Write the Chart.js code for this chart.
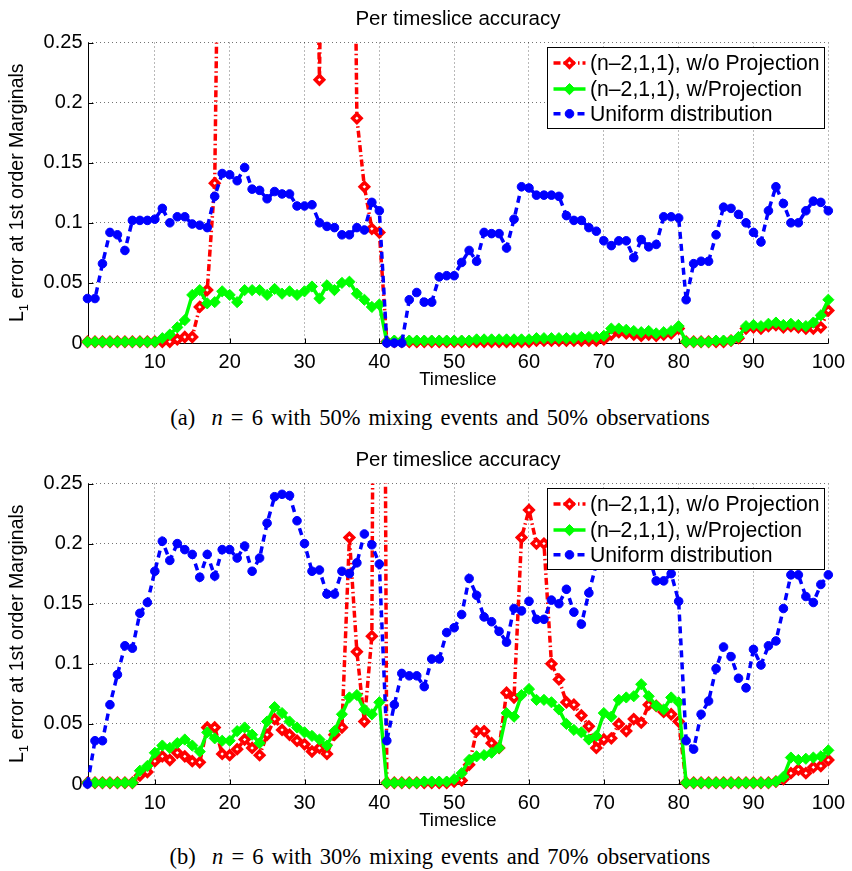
<!DOCTYPE html>
<html lang="en">
<head>
<meta charset="utf-8">
<title>Per timeslice accuracy</title>
<script src="https://cdn.jsdelivr.net/npm/chart.js@4.4.1/dist/chart.umd.min.js"></script>
<style>
body { margin: 0; background: #fff; }
#wrap { position: relative; width: 852px; height: 871px; overflow: hidden; }
canvas { position: absolute; left: 0; }
.cap {
  position: absolute; left: 0; width: 880px; text-align: center;
  font-family: "Liberation Serif", "Times New Roman", serif;
  font-size: 22.5px; line-height: 26px; word-spacing: 2.5px; color: #000; white-space: nowrap;
}
</style>
</head>
<body>
<div id="wrap">
  <canvas id="chartA" width="852" height="400" style="top:0"></canvas>
  <div class="cap" style="top:405px">(a)&nbsp; <i>n</i> = 6 with 50% mixing events and 50% observations</div>
  <canvas id="chartB" width="852" height="400" style="top:441px"></canvas>
  <div class="cap" style="top:844px">(b)&nbsp; <i>n</i> = 6 with 30% mixing events and 70% observations</div>
</div>
<script>
const timeslices = [1,2,3,4,5,6,7,8,9,10,11,12,13,14,15,16,17,18,19,20,
  21,22,23,24,25,26,27,28,29,30,31,32,33,34,35,36,37,38,39,40,
  41,42,43,44,45,46,47,48,49,50,51,52,53,54,55,56,57,58,59,60,
  61,62,63,64,65,66,67,68,69,70,71,72,73,74,75,76,77,78,79,80,
  81,82,83,84,85,86,87,88,89,90,91,92,93,94,95,96,97,98,99,100];
const xTickValues = [10, 20, 30, 40, 50, 60, 70, 80, 90, 100];
const yTickValues = [0, 0.05, 0.1, 0.15, 0.2, 0.25];
const seriesLabels = ['(n\u20132,1,1), w/o Projection', '(n\u20132,1,1), w/Projection', 'Uniform distribution'];

// (a) 50% mixing / 50% observations
const noProjA = [
  0.001,0.001,0.001,0.001,0.001,0.001,0.001,0.001,0.001,0.001,
  0.001,0.001,0.003,0.005,0.005,0.030,0.044,0.133,0.62,0.62,
  0.62,0.62,0.62,0.62,0.62,0.62,0.62,0.62,0.62,0.62,
  0.62,0.219,0.75,0.75,0.75,0.75,0.187,0.130,0.095,0.092,
  0.001,0.001,0.001,0.001,0.001,0.001,0.001,0.001,0.001,0.001,
  0.001,0.001,0.001,0.001,0.001,0.001,0.001,0.001,0.001,0.001,
  0.002,0.002,0.002,0.002,0.002,0.002,0.002,0.002,0.002,0.003,
  0.007,0.009,0.008,0.007,0.006,0.007,0.006,0.007,0.008,0.012,
  0.001,0.001,0.001,0.001,0.001,0.001,0.002,0.004,0.012,0.013,
  0.012,0.014,0.015,0.013,0.014,0.013,0.012,0.012,0.013,0.027];
const withProjA = [
  0.001,0.001,0.001,0.001,0.001,0.001,0.001,0.001,0.001,0.001,
  0.004,0.007,0.013,0.019,0.040,0.044,0.033,0.034,0.043,0.040,
  0.034,0.044,0.044,0.044,0.040,0.045,0.041,0.043,0.040,0.043,
  0.047,0.037,0.048,0.044,0.050,0.051,0.041,0.036,0.030,0.032,
  0.001,0.002,0.002,0.002,0.002,0.002,0.002,0.002,0.002,0.002,
  0.002,0.002,0.003,0.003,0.003,0.003,0.003,0.003,0.003,0.003,
  0.004,0.004,0.004,0.004,0.004,0.004,0.005,0.005,0.005,0.006,
  0.012,0.012,0.011,0.010,0.009,0.010,0.008,0.009,0.010,0.014,
  0.001,0.001,0.001,0.001,0.002,0.002,0.002,0.005,0.014,0.015,
  0.014,0.016,0.017,0.015,0.016,0.015,0.014,0.017,0.023,0.036];
const uniformA = [
  0.037,0.037,0.066,0.092,0.090,0.077,0.102,0.102,0.102,0.103,
  0.112,0.100,0.105,0.105,0.099,0.098,0.096,0.122,0.141,0.140,
  0.135,0.146,0.128,0.127,0.120,0.126,0.124,0.124,0.114,0.114,
  0.115,0.100,0.097,0.096,0.090,0.090,0.096,0.094,0.117,0.110,
  0.000,0.000,0.000,0.036,0.042,0.034,0.034,0.055,0.056,0.056,
  0.067,0.077,0.068,0.092,0.091,0.091,0.079,0.103,0.130,0.129,
  0.123,0.123,0.123,0.122,0.106,0.102,0.102,0.096,0.093,0.085,
  0.081,0.085,0.085,0.071,0.086,0.080,0.082,0.105,0.105,0.104,
  0.036,0.066,0.068,0.068,0.090,0.113,0.112,0.107,0.100,0.092,
  0.084,0.110,0.130,0.116,0.100,0.100,0.110,0.118,0.117,0.110];

// (b) 30% mixing / 70% observations
const noProjB = [
  0.001,0.001,0.001,0.001,0.001,0.001,0.001,0.007,0.010,0.019,
  0.023,0.020,0.026,0.023,0.019,0.018,0.047,0.047,0.025,0.024,
  0.029,0.037,0.030,0.024,0.041,0.054,0.045,0.041,0.036,0.033,
  0.027,0.030,0.025,0.041,0.047,0.205,0.110,0.052,0.123,1.4,
  0.001,0.001,0.001,0.001,0.001,0.001,0.001,0.001,0.001,0.002,
  0.003,0.016,0.044,0.044,0.034,0.030,0.076,0.072,0.205,0.228,
  0.200,0.200,0.100,0.087,0.068,0.066,0.057,0.048,0.030,0.037,
  0.038,0.050,0.044,0.054,0.051,0.066,0.065,0.060,0.058,0.052,
  0.001,0.001,0.001,0.001,0.001,0.001,0.001,0.001,0.001,0.001,
  0.001,0.001,0.002,0.004,0.009,0.012,0.009,0.014,0.015,0.020];
const withProjB = [
  0.001,0.001,0.001,0.001,0.001,0.001,0.001,0.011,0.015,0.026,
  0.032,0.030,0.034,0.037,0.032,0.027,0.043,0.038,0.036,0.036,
  0.044,0.047,0.041,0.034,0.052,0.064,0.059,0.052,0.047,0.043,
  0.040,0.037,0.032,0.044,0.058,0.072,0.074,0.062,0.058,0.068,
  0.001,0.001,0.001,0.001,0.001,0.002,0.002,0.002,0.002,0.004,
  0.009,0.020,0.023,0.024,0.026,0.030,0.059,0.056,0.074,0.079,
  0.070,0.070,0.068,0.062,0.050,0.045,0.043,0.037,0.040,0.059,
  0.056,0.070,0.072,0.073,0.083,0.073,0.065,0.062,0.072,0.068,
  0.001,0.001,0.001,0.001,0.001,0.001,0.001,0.001,0.001,0.001,
  0.001,0.001,0.002,0.006,0.022,0.020,0.021,0.022,0.023,0.028];
const uniformB = [
  0.000,0.036,0.036,0.066,0.091,0.115,0.113,0.142,0.151,0.177,
  0.202,0.186,0.200,0.195,0.191,0.172,0.191,0.173,0.195,0.195,
  0.188,0.198,0.177,0.188,0.217,0.239,0.241,0.240,0.219,0.200,
  0.177,0.178,0.158,0.158,0.177,0.175,0.184,0.208,0.199,0.183,
  0.036,0.066,0.092,0.090,0.090,0.081,0.104,0.104,0.126,0.130,
  0.141,0.171,0.157,0.139,0.135,0.127,0.118,0.146,0.144,0.152,
  0.137,0.137,0.153,0.150,0.162,0.143,0.133,0.159,0.183,0.196,
  0.205,0.210,0.200,0.193,0.204,0.190,0.169,0.169,0.175,0.152,
  0.036,0.029,0.058,0.069,0.096,0.114,0.106,0.088,0.080,0.112,
  0.099,0.115,0.119,0.146,0.174,0.174,0.156,0.151,0.166,0.174];

const FONT = '"Liberation Sans", Arial, Helvetica, sans-serif';
Chart.defaults.font.family = FONT;
Chart.defaults.color = '#000';

// axes lines, inner ticks, title, y label and the boxed legend (MATLAB look)
const decor = {
  id: 'decor',
  beforeDatasetsDraw(chart) {
    const { ctx, chartArea: a, scales: { x, y } } = chart;
    ctx.save();
    ctx.strokeStyle = '#000';
    ctx.lineWidth = 1;
    ctx.beginPath();
    const L = Math.round(a.left) + 0.5, B = Math.round(a.bottom) + 0.5;
    ctx.moveTo(L, a.top);
    ctx.lineTo(L, B);
    ctx.lineTo(a.right, B);
    for (const v of xTickValues) {
      const px = Math.round(x.getPixelForValue(v)) + 0.5;
      ctx.moveTo(px, B); ctx.lineTo(px, B - 5);
    }
    for (const v of yTickValues) {
      const py = Math.round(y.getPixelForValue(v)) + 0.5;
      ctx.moveTo(L, py); ctx.lineTo(L + 5, py);
    }
    ctx.stroke();
    ctx.restore();
  },
  afterDraw(chart, args, opts) {
    const { ctx, chartArea: a } = chart;
    ctx.save();
    ctx.fillStyle = '#000';

    // title
    ctx.font = '20.5px ' + FONT;
    ctx.textAlign = 'center';
    ctx.textBaseline = 'middle';
    ctx.fillText(opts.title, (a.left + a.right) / 2, a.top - 23);

    // y label with subscript
    ctx.save();
    ctx.translate(18, (a.top + a.bottom) / 2);
    ctx.rotate(-Math.PI / 2);
    const big = '19.5px ' + FONT, small = '13px ' + FONT;
    const rest = ' error at 1st order Marginals';
    ctx.font = big;
    const w1 = ctx.measureText('L').width, w3 = ctx.measureText(rest).width;
    ctx.font = small;
    const w2 = ctx.measureText('1').width;
    let sx = -(w1 + w2 + w3) / 2;
    ctx.textAlign = 'left';
    ctx.font = big; ctx.fillText('L', sx, 0); sx += w1;
    ctx.font = small; ctx.fillText('1', sx, 6); sx += w2;
    ctx.font = big; ctx.fillText(rest, sx, 0);
    ctx.restore();

    // legend
    const bx = Math.round(a.right - 281.5) + 0.5, by = Math.round(a.top + 4.5) + 0.5;
    const bw = 277, bh = 81;
    ctx.fillStyle = '#fff';
    ctx.fillRect(bx, by, bw, bh);
    ctx.strokeStyle = '#000';
    ctx.lineWidth = 1;
    ctx.strokeRect(bx, by, bw, bh);
    const rows = [20.6, 46.6, 71.3];
    chart.data.datasets.forEach((ds, i) => {
      const ry = a.top + rows[i];
      ctx.save();
      ctx.strokeStyle = ds.borderColor;
      ctx.lineWidth = ds.borderWidth;
      ctx.setLineDash(ds.borderDash || []);
      ctx.beginPath();
      ctx.moveTo(bx + 6, ry); ctx.lineTo(bx + 38, ry);
      ctx.stroke();
      ctx.setLineDash([]);
      ctx.fillStyle = ds.pointBackgroundColor;
      ctx.strokeStyle = ds.pointBorderColor;
      ctx.lineWidth = ds.pointBorderWidth;
      Chart.helpers.drawPoint(ctx, { pointStyle: ds.pointStyle, radius: ds.pointRadius, rotation: 0, borderWidth: ds.pointBorderWidth }, bx + 22, ry);
      ctx.restore();
      ctx.fillStyle = '#000';
      ctx.font = '21.2px ' + FONT;
      ctx.textAlign = 'left';
      ctx.textBaseline = 'middle';
      ctx.fillText(ds.label, bx + 42.5, ry + 1);
    });
    ctx.restore();
  }
};

function makeChart(id, noProj, withProj, uniform) {
  const pts = vals => timeslices.map((t, i) => ({ x: t, y: vals[i] }));
  const clip = { left: 8, top: 0, right: 8, bottom: 8 };
  const grid = { color: 'rgba(0,0,0,0.55)', lineWidth: 1, drawTicks: false };
  const border = { display: false, dash: [1, 3] };
  return new Chart(document.getElementById(id), {
    type: 'line',
    data: {
      datasets: [{
        label: seriesLabels[0],
        data: pts(noProj),
        borderColor: '#ff0000',
        borderWidth: 3.5,
        borderDash: [7, 3, 1.5, 3],
        pointStyle: 'rectRot',
        pointRadius: 4.2,
        pointBorderWidth: 3.5,
        pointBackgroundColor: '#ffffff',
        pointBorderColor: '#ff0000',
        clip: clip,
        order: 3
      }, {
        label: seriesLabels[1],
        data: pts(withProj),
        borderColor: '#00ff00',
        borderWidth: 3.5,
        pointStyle: 'rectRot',
        pointRadius: 5.6,
        pointBorderWidth: 1,
        pointBackgroundColor: '#00ff00',
        pointBorderColor: '#00ff00',
        clip: clip,
        order: 2
      }, {
        label: seriesLabels[2],
        data: pts(uniform),
        borderColor: '#0000ff',
        borderWidth: 3.5,
        borderDash: [7, 5],
        pointStyle: 'circle',
        pointRadius: 4.3,
        pointBorderWidth: 1,
        pointBackgroundColor: '#0000ff',
        pointBorderColor: '#0000ff',
        clip: clip,
        order: 1
      }]
    },
    options: {
      responsive: false,
      animation: false,
      events: [],
      elements: { line: { tension: 0 } },
      layout: { padding: { left: 0, top: 42.5, right: 21.5, bottom: 0 } },
      plugins: {
        legend: { display: false },
        tooltip: { enabled: false },
        decor: { title: 'Per timeslice accuracy' }
      },
      scales: {
        x: {
          type: 'linear', min: 1, max: 100,
          afterBuildTicks: s => { s.ticks = xTickValues.map(v => ({ value: v })); },
          afterFit: s => { s.height = 57; },
          grid: grid, border: border,
          ticks: { padding: 7, font: { size: 20 }, color: '#000', maxRotation: 0, autoSkip: false },
          title: { display: true, text: 'Timeslice', font: { size: 18.5 }, color: '#000', padding: { top: 0, bottom: 9 } }
        },
        y: {
          min: 0, max: 0.25,
          afterBuildTicks: s => { s.ticks = yTickValues.map(v => ({ value: v })); },
          afterFit: s => { s.width = 87.5; },
          grid: grid, border: border,
          ticks: { padding: 5, font: { size: 20 }, color: '#000', callback: v => String(+v.toFixed(2)) }
        }
      }
    },
    plugins: [decor]
  });
}

makeChart('chartA', noProjA, withProjA, uniformA);
makeChart('chartB', noProjB, withProjB, uniformB);
</script>
</body>
</html>
